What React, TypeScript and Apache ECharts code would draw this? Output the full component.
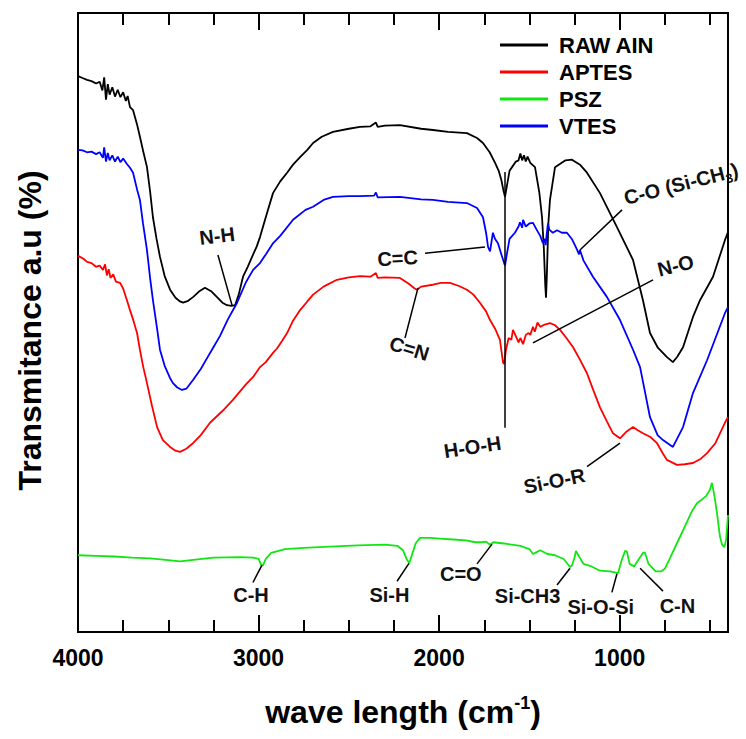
import React, { useEffect, useRef } from "react";
import * as echarts from "echarts";

const FONT = "'Liberation Sans', Arial, sans-serif";

const seriesNames = ["RAW AIN", "APTES", "PSZ", "VTES"];
const seriesColors = ["#000000", "#ff0000", "#12e612", "#0000ff"];

const xMajorTicks = [4000, 3000, 2000, 1000];
const xMinorTicks = [3750, 3500, 3250, 2750, 2500, 2250, 1750, 1500, 1250, 750, 500];

// [wavenumber cm-1, transmittance a.u.]
const rawAin: [number, number][] = [
  [4000, 89.8], [3975, 89.5], [3950, 89.2], [3925, 89.0], [3900, 88.6], [3880, 88.9], [3865, 87.5], [3855, 89.6],
  [3845, 86.0], [3835, 88.5], [3825, 86.8], [3810, 88.0], [3795, 86.5], [3780, 87.6], [3765, 86.4], [3750, 87.2],
  [3735, 85.8], [3725, 86.6], [3712, 84.8], [3695, 84.3], [3673, 82.0], [3657, 80.0], [3640, 77.8], [3618, 75.1],
  [3600, 71.0], [3585, 67.0], [3565, 63.5], [3546, 60.6], [3520, 57.5], [3490, 55.3], [3460, 54.0], [3435, 53.4],
  [3418, 53.2], [3390, 53.5], [3363, 54.1], [3330, 55.0], [3297, 55.6], [3260, 55.0], [3230, 54.1], [3200, 53.2],
  [3175, 52.8], [3150, 52.7], [3130, 52.8], [3110, 54.5], [3086, 57.4], [3060, 59.0], [3036, 60.6], [3010, 62.3],
  [2992, 63.8], [2960, 67.0], [2920, 70.9], [2880, 72.8], [2842, 74.2], [2809, 75.5], [2770, 76.7], [2730, 77.9],
  [2698, 79.0], [2650, 80.0], [2588, 80.8], [2500, 81.3], [2438, 81.6], [2380, 81.7], [2350, 82.3], [2340, 81.6],
  [2300, 81.8], [2217, 81.9], [2100, 81.3], [2034, 81.1], [1950, 80.8], [1846, 80.6], [1790, 79.8], [1757, 79.0],
  [1720, 77.5], [1690, 75.8], [1670, 74.5], [1655, 73.0], [1645, 71.5], [1635, 70.3], [1625, 72.0], [1610, 74.5],
  [1596, 75.1], [1575, 76.0], [1560, 76.2], [1550, 77.3], [1540, 76.2], [1530, 77.0], [1520, 76.0], [1510, 76.8],
  [1495, 75.8], [1469, 75.1], [1445, 71.0], [1430, 67.0], [1420, 62.0], [1412, 56.0], [1408, 54.0], [1404, 57.0],
  [1395, 66.0], [1386, 69.8], [1358, 75.1], [1300, 76.2], [1264, 76.3], [1220, 75.5], [1181, 74.2], [1109, 70.9],
  [1015, 65.4], [926, 60.1], [871, 53.6], [832, 48.3], [790, 46.0], [738, 44.4], [705, 43.6], [680, 44.5],
  [649, 46.0], [594, 50.9], [555, 53.6], [483, 57.4], [417, 63.3], [400, 64.6],
];

const aptes: [number, number][] = [
  [4000, 60.8], [3989, 60.6], [3970, 60.3], [3950, 59.8], [3925, 59.6], [3900, 59.0], [3880, 59.2], [3862, 58.5],
  [3850, 59.4], [3840, 57.6], [3830, 58.6], [3820, 57.2], [3805, 57.8], [3790, 56.6], [3767, 56.4], [3750, 55.5],
  [3729, 53.6], [3712, 52.0], [3695, 50.5], [3673, 48.3], [3657, 45.6], [3640, 43.0], [3618, 40.2], [3590, 36.5],
  [3562, 33.1], [3530, 31.0], [3490, 29.9], [3460, 29.3], [3435, 29.1], [3400, 29.6], [3363, 30.5], [3320, 31.8],
  [3269, 33.8], [3200, 35.7], [3142, 37.5], [3070, 40.0], [3030, 41.2], [2992, 42.8], [2960, 43.6], [2920, 45.1],
  [2898, 45.8], [2870, 47.0], [2842, 48.3], [2809, 50.3], [2770, 52.0], [2730, 53.4], [2698, 54.5], [2640, 55.8],
  [2566, 56.9], [2500, 57.3], [2438, 57.5], [2380, 57.4], [2350, 58.0], [2340, 57.2], [2300, 57.3], [2217, 57.2],
  [2170, 56.3], [2135, 55.5], [2122, 55.3], [2100, 55.8], [2034, 56.1], [1990, 56.4], [1940, 56.4], [1890, 55.9],
  [1846, 55.3], [1810, 54.5], [1774, 53.2], [1740, 51.8], [1718, 50.4], [1690, 49.0], [1663, 47.2], [1646, 43.5],
  [1640, 43.3], [1630, 45.5], [1615, 47.5], [1600, 47.2], [1591, 48.8], [1575, 47.8], [1560, 46.8], [1550, 47.5],
  [1535, 46.5], [1520, 48.0], [1505, 48.3], [1495, 48.0], [1480, 49.3], [1470, 48.5], [1455, 50.0], [1440, 49.3],
  [1420, 49.6], [1386, 49.9], [1360, 49.6], [1330, 48.8], [1295, 47.5], [1258, 46.0], [1220, 44.0], [1181, 41.8],
  [1145, 39.0], [1109, 36.3], [1070, 34.0], [1037, 32.1], [998, 31.3], [965, 32.3], [926, 33.1], [900, 32.6],
  [871, 32.1], [830, 31.5], [793, 30.5], [760, 28.8], [738, 27.8], [683, 27.0], [640, 27.1], [594, 27.3],
  [550, 28.0], [516, 28.9], [470, 30.5], [417, 33.8], [400, 34.7],
];

const psz: [number, number][] = [
  [4000, 12.4], [3900, 12.3], [3800, 12.2], [3700, 12.0], [3600, 11.9], [3500, 11.6], [3435, 11.4], [3350, 11.7],
  [3250, 12.0], [3100, 12.1], [3030, 12.0], [3000, 11.8], [2985, 10.8], [2975, 10.8], [2960, 11.8], [2930, 12.8],
  [2854, 13.4], [2750, 13.6], [2604, 13.8], [2450, 14.0], [2300, 14.1], [2230, 13.9], [2200, 13.2], [2180, 11.8],
  [2165, 11.1], [2150, 12.5], [2130, 14.3], [2106, 15.2], [2050, 15.2], [1995, 15.1], [1900, 14.9], [1850, 14.8],
  [1800, 14.5], [1760, 14.5], [1740, 14.6], [1718, 14.1], [1700, 14.5], [1640, 14.3], [1550, 13.9], [1500, 13.4],
  [1480, 12.6], [1460, 12.9], [1440, 13.2], [1400, 12.6], [1358, 12.4], [1310, 11.8], [1275, 10.5], [1265, 10.7],
  [1250, 12.0], [1242, 13.1], [1225, 12.2], [1200, 11.0], [1164, 10.7], [1109, 9.9], [1054, 9.8], [1020, 9.6],
  [1009, 9.5], [990, 11.5], [970, 13.1], [960, 13.0], [945, 11.0], [920, 10.6], [900, 11.5], [870, 12.8],
  [860, 12.8], [840, 11.0], [800, 9.8], [770, 9.8], [750, 10.2], [720, 12.0], [680, 14.5], [640, 17.0],
  [600, 19.5], [572, 20.8], [540, 21.5], [520, 22.0], [500, 23.0], [489, 24.1], [475, 22.0], [460, 19.0],
  [445, 15.5], [433, 14.1], [420, 13.7], [410, 15.0], [400, 18.9],
];

const vtes: [number, number][] = [
  [4000, 77.9], [3975, 77.8], [3950, 77.5], [3925, 77.6], [3900, 77.2], [3880, 77.5], [3862, 76.6], [3855, 78.3],
  [3845, 76.0], [3835, 77.4], [3825, 76.2], [3810, 77.0], [3795, 76.0], [3780, 76.8], [3765, 75.9], [3750, 76.5],
  [3729, 75.6], [3712, 75.0], [3695, 74.2], [3673, 71.5], [3657, 69.8], [3640, 66.0], [3618, 61.7], [3600, 57.0],
  [3585, 53.6], [3562, 49.0], [3546, 45.6], [3520, 43.0], [3490, 41.0], [3474, 40.2], [3450, 39.5], [3424, 39.1],
  [3400, 39.3], [3363, 40.7], [3320, 42.5], [3286, 44.2], [3250, 46.0], [3214, 47.8], [3170, 50.5], [3119, 53.2],
  [3070, 56.5], [3030, 58.5], [2992, 59.6], [2960, 61.0], [2920, 62.8], [2880, 64.0], [2809, 66.6], [2740, 68.2],
  [2698, 68.7], [2640, 69.8], [2588, 70.3], [2500, 70.4], [2438, 70.4], [2360, 70.5], [2350, 71.0], [2340, 70.2],
  [2217, 70.3], [2100, 69.9], [2034, 69.8], [1950, 69.5], [1846, 69.3], [1790, 68.5], [1757, 67.0], [1740, 64.5],
  [1729, 62.2], [1718, 61.5], [1710, 63.0], [1702, 64.5], [1690, 63.5], [1674, 62.8], [1655, 61.0], [1640, 59.6],
  [1635, 59.2], [1625, 61.0], [1610, 63.5], [1580, 64.5], [1560, 65.5], [1552, 66.2], [1540, 65.3], [1535, 66.6],
  [1520, 65.5], [1500, 66.0], [1480, 66.1], [1460, 65.0], [1440, 64.0], [1425, 62.8], [1415, 63.5], [1410, 62.5],
  [1405, 64.0], [1397, 66.0], [1390, 65.0], [1370, 64.5], [1347, 64.9], [1320, 64.5], [1292, 64.5], [1265, 63.5],
  [1240, 62.0], [1225, 61.0], [1220, 61.7], [1200, 60.0], [1148, 57.4], [1070, 54.1], [998, 50.4], [926, 45.6],
  [887, 42.8], [832, 34.7], [790, 31.8], [760, 31.0], [705, 29.9], [649, 33.1], [594, 38.6], [516, 43.9],
  [417, 51.5], [400, 52.5],
];

const seriesData = [rawAin, aptes, psz, vtes];

// band annotations: label, leader line (from -> to), label anchor, rotation (rad)
type Note = { text: string; from: [number, number]; to: [number, number]; at: [number, number]; rotate: number; sub?: boolean };
const notes: Note[] = [
  { text: "N-H", from: [3147, 52.8], to: [3225, 60.9], at: [3230, 64.0], rotate: 0.12 },
  { text: "C=C", from: [1746, 62.2], to: [2078, 61.2], at: [2230, 60.4], rotate: 0.05 },
  { text: "C=N", from: [2117, 55.6], to: [2189, 47.5], at: [2165, 45.8], rotate: -0.3 },
  { text: "H-O-H", from: [1635, 74.3], to: [1635, 33.0], at: [1815, 29.9], rotate: 0.15 },
  { text: "C-O (Si-CH3)", from: [1220, 61.7], to: [987, 68.2], at: [660, 72.4], rotate: 0.25, sub: true },
  { text: "N-O", from: [1480, 46.7], to: [815, 56.9], at: [690, 59.2], rotate: 0.25 },
  { text: "Si-O-R", from: [1181, 26.7], to: [998, 30.5], at: [1362, 24.4], rotate: 0.2 },
  { text: "C-H", from: [2981, 10.8], to: [3031, 8.0], at: [3042, 6.0], rotate: 0 },
  { text: "Si-H", from: [2167, 11.1], to: [2233, 8.2], at: [2275, 6.0], rotate: 0 },
  { text: "C=O", from: [1707, 14.2], to: [1790, 11.0], at: [1880, 9.3], rotate: 0 },
  { text: "Si-CH3", from: [1275, 10.3], to: [1347, 7.6], at: [1510, 5.8], rotate: 0 },
  { text: "Si-O-Si", from: [1015, 9.4], to: [1043, 6.4], at: [1105, 4.0], rotate: 0 },
  { text: "C-N", from: [887, 10.3], to: [760, 6.6], at: [680, 4.2], rotate: 0 },
];

export default function App() {
  const ref = useRef<HTMLDivElement | null>(null);

  useEffect(() => {
    if (!ref.current) return;
    const chart = echarts.init(ref.current, undefined, { renderer: "svg" });

    const baseX = {
      type: "value" as const,
      min: 400,
      max: 4000,
      inverse: true,
      splitLine: { show: false },
      axisLine: { show: false },
    };
    const tickLine = { color: "#000", width: 2 };

    const option: any = {
      animation: false,
      backgroundColor: "#fff",
      grid: {
        left: 78,
        right: 18,
        top: 13,
        bottom: 107,
        show: true,
        borderColor: "#000",
        borderWidth: 2,
        backgroundColor: "transparent",
      },
      legend: {
        data: seriesNames,
        orient: "vertical",
        left: 500,
        top: 34,
        padding: 0,
        icon: "rect",
        itemWidth: 48,
        itemHeight: 3,
        itemGap: 5,
        selectedMode: false,
        textStyle: { fontSize: 22, fontWeight: "bold", color: "#000", fontFamily: FONT, padding: [0, 0, 0, 6] },
      },
      xAxis: [
        {
          ...baseX,
          position: "bottom",
          axisTick: { show: true, inside: true, length: 17, lineStyle: tickLine, customValues: xMajorTicks },
          axisLabel: {
            show: true,
            customValues: xMajorTicks,
            formatter: (v: number) => String(v),
            fontSize: 23,
            fontWeight: "bold",
            color: "#000",
            fontFamily: FONT,
            margin: 14,
          },
          name: "{t|wave length (cm}{s|-1}{t|)}",
          nameLocation: "middle",
          nameGap: 62,
          nameTextStyle: {
            rich: {
              t: { fontSize: 32, fontWeight: "bold", color: "#000", fontFamily: FONT, lineHeight: 36 },
              s: { fontSize: 18, fontWeight: "bold", color: "#000", fontFamily: FONT, verticalAlign: "top", lineHeight: 18 },
            },
          },
        },
        {
          ...baseX,
          position: "bottom",
          axisTick: { show: true, inside: true, length: 12, lineStyle: tickLine, customValues: xMinorTicks },
          axisLabel: { show: false },
        },
        {
          ...baseX,
          position: "top",
          axisTick: { show: true, inside: true, length: 17, lineStyle: tickLine, customValues: xMajorTicks },
          axisLabel: { show: false },
        },
        {
          ...baseX,
          position: "top",
          axisTick: { show: true, inside: true, length: 12, lineStyle: tickLine, customValues: xMinorTicks },
          axisLabel: { show: false },
        },
      ],
      yAxis: {
        type: "value",
        min: 0,
        max: 100,
        axisLine: { show: false },
        axisTick: { show: false },
        axisLabel: { show: false },
        splitLine: { show: false },
        name: "Transmitance a.u (%)",
        nameLocation: "middle",
        nameGap: 32,
        nameTextStyle: { fontSize: 32, fontWeight: "bold", color: "#000", fontFamily: FONT, padding: [0, 16, 0, 0] },
      },
      series: seriesNames.map((name, i) => ({
        name,
        type: "line",
        xAxisIndex: 0,
        yAxisIndex: 0,
        data: seriesData[i],
        showSymbol: false,
        symbol: "none",
        color: seriesColors[i],
        lineStyle: { width: 1.8, color: seriesColors[i] },
        z: 2,
        markLine:
          i === 0
            ? {
                silent: true,
                symbol: ["none", "none"],
                label: { show: false },
                lineStyle: { color: "#000", width: 1.5, type: "solid" },
                emphasis: { disabled: true },
                data: notes.map((n) => [{ coord: n.from }, { coord: n.to }]),
              }
            : undefined,
      })),
    };

    chart.setOption(option);

    const graphic = notes.map((n) => {
      const p = chart.convertToPixel({ seriesIndex: 0 }, n.at) as number[];
      const style: any = {
        fill: "#111",
        align: "center",
        verticalAlign: "middle",
        fontSize: 20,
        fontWeight: "bold",
        fontFamily: FONT,
      };
      if (n.sub) {
        style.text = "{a|C-O (Si-CH}{b|3}{a|)}";
        style.rich = {
          a: { fontSize: 20, fontWeight: "bold", fontFamily: FONT, fill: "#111", lineHeight: 26 },
          b: { fontSize: 13, fontWeight: "bold", fontFamily: FONT, fill: "#111", verticalAlign: "bottom", lineHeight: 13 },
        };
      } else {
        style.text = n.text;
      }
      return { type: "text", x: p[0], y: p[1], rotation: n.rotate, style, z: 10 };
    });
    chart.setOption({ graphic });

    return () => chart.dispose();
  }, []);

  return (
    <div
      ref={ref}
      style={{ position: "fixed", left: 0, top: 0, width: 746, height: 739, background: "#fff" }}
    />
  );
}
